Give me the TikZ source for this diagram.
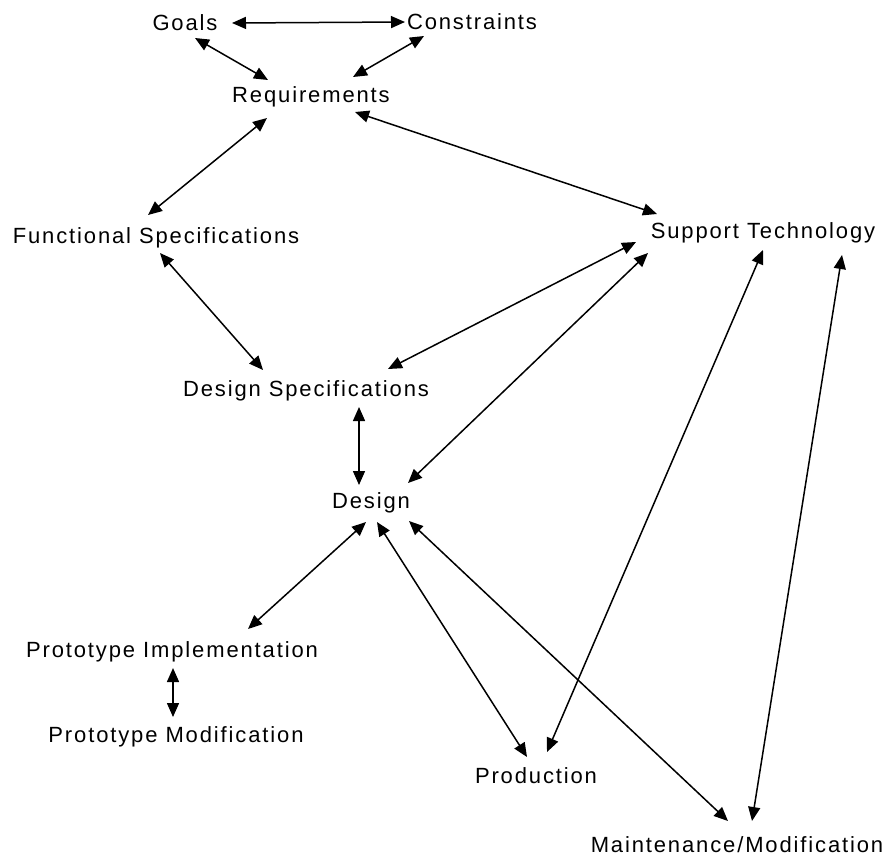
\documentclass[tikz,border=0pt]{standalone}
\usepackage{fontspec}
\setmainfont{Liberation Sans}[LetterSpace=8.5]
\usetikzlibrary{arrows.meta}
\begin{document}
\begin{tikzpicture}[x=1pt,y=-1pt,
  lbl/.style={anchor=base, inner sep=0pt, font=\fontsize{22}{26}\selectfont},
  dar/.style={{Triangle[length=14pt,width=12pt]}-{Triangle[length=14pt,width=12pt]}, line width=1.5pt}]
\useasboundingbox (0,0) rectangle (890,857);
\node[lbl] (goals) at (185,30) {Goals};
\node[lbl] (cons)  at (472,29) {Constraints};
\node[lbl] (req)   at (311,102) {Requirements};
\node[lbl] (func)  at (156,243) {Functional Specifications};
\node[lbl] (sup)   at (763,238) {Support Technology};
\node[lbl] (dspec) at (306,396) {Design Specifications};
\node[lbl] (design) at (371,508) {Design};
\node[lbl] (pimpl) at (172,657) {Prototype Implementation};
\node[lbl] (pmod)  at (176,742) {Prototype Modification};
\node[lbl] (prod)  at (536,783) {Production};
\node[lbl] (maint) at (737,852) {Maintenance/Modification};

\draw[dar] ([shift={(47,-7)}]goals.base) -- ([shift={(-67,-7)}]cons.base);
\draw[dar] ([shift={(10,8)}]goals.base) -- ([shift={(-43,-22)}]req.base);
\draw[dar] ([shift={(-48,7)}]cons.base) -- ([shift={(42,-25)}]req.base);
\draw[dar] ([shift={(-44,16)}]req.base) -- ([shift={(-8,-28)}]func.base);
\draw[dar] ([shift={(44,10)}]req.base) -- ([shift={(-106,-24)}]sup.base);
\draw[dar] ([shift={(4,10)}]func.base) -- ([shift={(-43,-26)}]dspec.base);
\draw[dar] ([shift={(-127,4)}]sup.base) -- ([shift={(82,-27)}]dspec.base);
\draw[dar] ([shift={(-115,15)}]sup.base) -- ([shift={(37,-25)}]design.base);
\draw[dar] ([shift={(53,11)}]dspec.base) -- ([shift={(-12,-23)}]design.base);
\draw[dar] ([shift={(0,12)}]sup.base) -- ([shift={(11,-31)}]prod.base);
\draw[dar] ([shift={(79,17)}]sup.base) -- ([shift={(15,-31)}]maint.base);
\draw[dar] ([shift={(38,13)}]design.base) -- ([shift={(-9,-31)}]maint.base);
\draw[dar] ([shift={(6,14)}]design.base) -- ([shift={(-9,-26)}]prod.base);
\draw[dar] ([shift={(-5,14)}]design.base) -- ([shift={(76,-28)}]pimpl.base);
\draw[dar] ([shift={(1,11)}]pimpl.base) -- ([shift={(-3,-25)}]pmod.base);
\end{tikzpicture}
\end{document}
